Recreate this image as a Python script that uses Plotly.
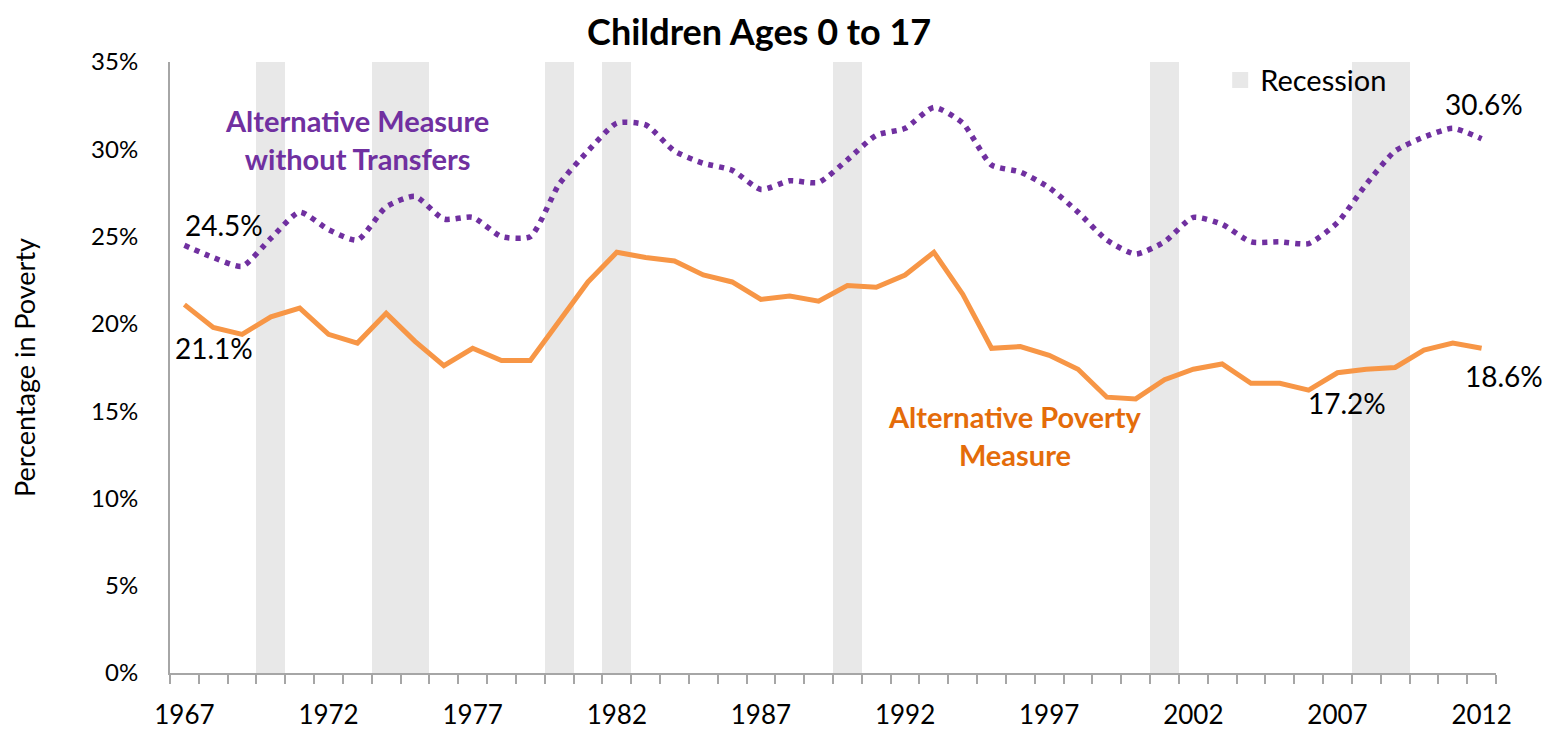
import plotly.graph_objects as go

years = list(range(1967, 2013))

alt_poverty = [21.1, 19.8, 19.4, 20.4, 20.9, 19.4, 18.9, 20.6, 19.0, 17.6,
               18.6, 17.9, 17.9, 20.2, 22.4, 24.1, 23.8, 23.6, 22.8, 22.4,
               21.4, 21.6, 21.3, 22.2, 22.1, 22.8, 24.1, 21.7, 18.6, 18.7,
               18.2, 17.4, 15.8, 15.7, 16.8, 17.4, 17.7, 16.6, 16.6, 16.2,
               17.2, 17.4, 17.5, 18.5, 18.9, 18.6]

alt_no_transfers = [24.5, 23.8, 23.3, 24.9, 26.4, 25.4, 24.8, 26.7, 27.3, 26.0,
                    26.1, 25.0, 25.0, 28.0, 29.9, 31.5, 31.4, 29.9, 29.2, 28.8,
                    27.7, 28.2, 28.1, 29.4, 30.8, 31.2, 32.4, 31.5, 29.1, 28.7,
                    27.8, 26.4, 24.8, 24.0, 24.7, 26.1, 25.7, 24.7, 24.7, 24.6,
                    25.8, 28.0, 29.9, 30.7, 31.2, 30.6]

recession_years = [1970, 1974, 1975, 1980, 1982, 1990, 2001, 2008, 2009]
recession_height = [35] * len(recession_years)

y_ticks = [0, 5, 10, 15, 20, 25, 30, 35]
y_tick_text = [f"{v}%" for v in y_ticks]
x_ticks = [1967, 1972, 1977, 1982, 1987, 1992, 1997, 2002, 2007, 2012]

FONT = "Lato"
PURPLE = "#7030A0"
ORANGE = "#F79646"
ORANGE_TEXT = "#E46C0A"
GRAY_BAR = "#E8E8E8"

fig = go.Figure()

fig.add_trace(go.Bar(
    x=recession_years, y=recession_height, width=1,
    marker=dict(color=GRAY_BAR, line=dict(width=0)),
    name="Recession", showlegend=False, hoverinfo="skip",
))

# legend entry for the recession bars
fig.add_trace(go.Scatter(
    x=[None], y=[None], mode="markers",
    marker=dict(symbol="square", size=16, color=GRAY_BAR),
    name="Recession", showlegend=True,
))

fig.add_trace(go.Scatter(
    x=years, y=alt_no_transfers, mode="lines",
    line=dict(color=PURPLE, width=5.5, dash="5px,6px", shape="spline", smoothing=0.6),
    name="Alternative Measure without Transfers", showlegend=False,
))

fig.add_trace(go.Scatter(
    x=years, y=alt_poverty, mode="lines",
    line=dict(color=ORANGE, width=5),
    name="Alternative Poverty Measure", showlegend=False,
))

LBL = 28
annotations = [
    dict(x=1973.0, y=30.55, text="<b>Alternative Measure<br>without Transfers</b>",
         font=dict(color=PURPLE, size=29), showarrow=False, align="center"),
    dict(x=1995.8, y=13.6, text="<b>Alternative Poverty<br>Measure</b>",
         font=dict(color=ORANGE_TEXT, size=29), showarrow=False, align="center"),
    dict(x=years[0], y=alt_no_transfers[0], text="24.5%", showarrow=False,
         xshift=40, yshift=20, font=dict(size=LBL, color="black")),
    dict(x=years[0], y=alt_poverty[0], text="21.1%", showarrow=False,
         xshift=30, yshift=-43, font=dict(size=LBL, color="black")),
    dict(x=years[-1], y=alt_no_transfers[-1], text="30.6%", showarrow=False,
         xshift=2, yshift=35, font=dict(size=LBL, color="black")),
    dict(x=years[-1], y=alt_poverty[-1], text="18.6%", showarrow=False,
         xshift=22, yshift=-28, font=dict(size=LBL, color="black")),
    dict(x=2007, y=alt_poverty[40], text="17.2%", showarrow=False,
         xshift=10, yshift=-30, font=dict(size=LBL, color="black")),
]

fig.update_layout(
    width=1552, height=721,
    margin=dict(l=162, r=64, t=54, b=56, autoexpand=False),
    paper_bgcolor="white", plot_bgcolor="white",
    font=dict(family=FONT, size=24, color="black"),
    title=dict(text="<b>Children Ages 0 to 17</b>", x=0.484, xanchor="center",
               y=0.9667, yanchor="middle",
               font=dict(size=36, color="black")),
    bargap=0,
    showlegend=True,
    legend=dict(x=0.792, y=1.012, xanchor="left", yanchor="top",
                bgcolor="rgba(0,0,0,0)", font=dict(size=29),
                itemsizing="trace"),
    annotations=annotations,
)

fig.update_xaxes(
    range=[1966.5, 2012.5], tickmode="array", tickvals=x_ticks,
    ticks="", showgrid=False, zeroline=False, automargin=False,
    showline=True, linecolor="#A6A6A6", linewidth=2,
    tickfont=dict(size=26), ticklabelstandoff=18,
    minor=dict(tick0=1966.5, dtick=1, ticks="outside", ticklen=9,
               tickcolor="#A6A6A6", tickwidth=1.5, showgrid=False),
)

fig.update_yaxes(
    range=[0, 35], tickmode="array", tickvals=y_ticks, ticktext=y_tick_text,
    ticks="", showgrid=False, zeroline=False, automargin=False,
    showline=True, linecolor="#A6A6A6", linewidth=2,
    tickfont=dict(size=24), ticklabelstandoff=25,
    title=dict(text="Percentage in Poverty", font=dict(size=27), standoff=60),
)

fig.write_html("out.html")
